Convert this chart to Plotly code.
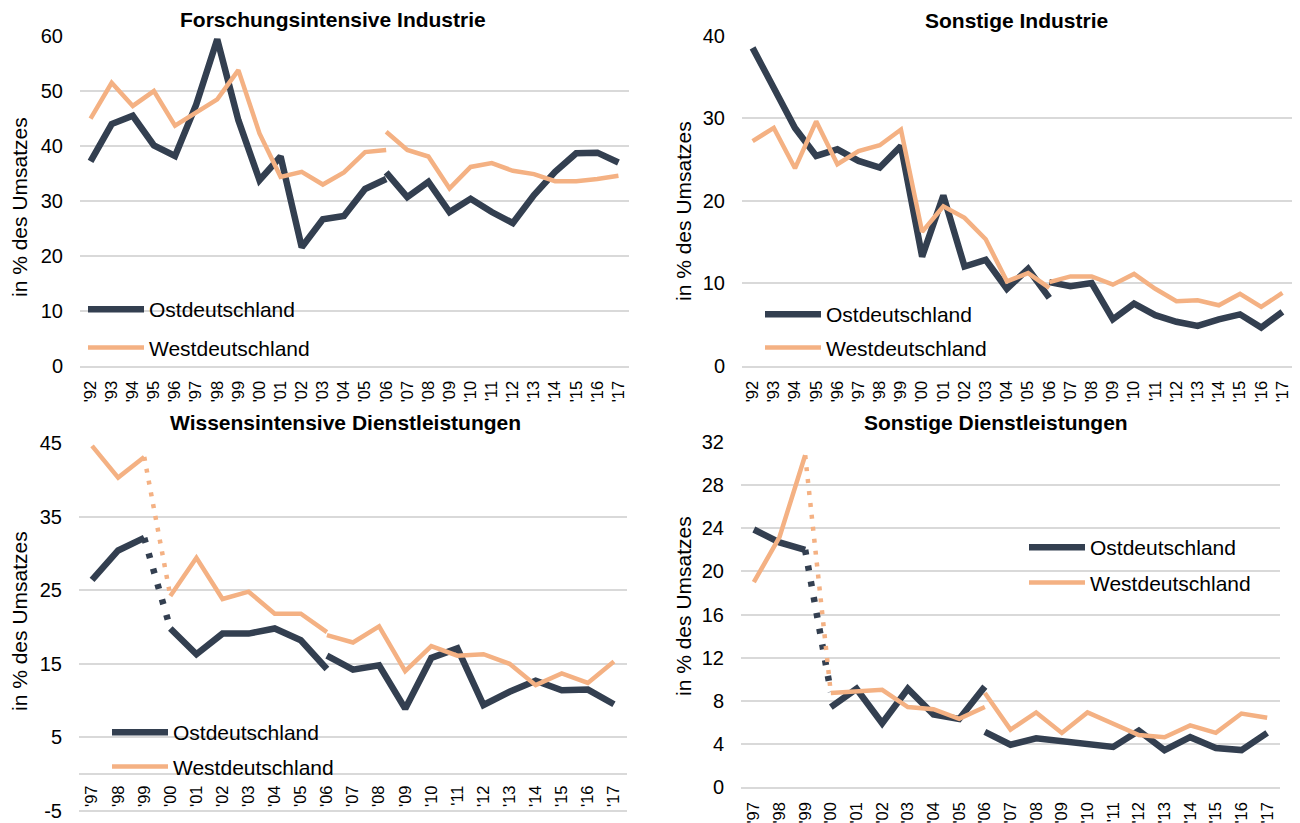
import plotly.graph_objects as go

# page body has an 8px margin -> figure drawn 8px in from the window edges
OFF = 8
FW, FH = 1300 - OFF, 823 - OFF

# ---------------- categories ----------------
years_92 = ["'92", "'93", "'94", "'95", "'96", "'97", "'98", "'99", "'00", "'01", "'02", "'03", "'04",
            "'05", "'06", "'07", "'08", "'09", "'10", "'11", "'12", "'13", "'14", "'15", "'16", "'17"]
years_97 = ["'97", "'98", "'99", "'00", "'01", "'02", "'03", "'04", "'05", "'06", "'07", "'08", "'09",
            "'10", "'11", "'12", "'13", "'14", "'15", "'16", "'17"]

# y tick values / labels
ticks_fi = [0, 10, 20, 30, 40, 50, 60]
ticks_si = [0, 10, 20, 30, 40]
ticks_wd = [-5, 5, 15, 25, 35, 45]
ticklabels_wd = ["-5", "5", "15", "25", "35", "45"]
ticks_sd = [0, 4, 8, 12, 16, 20, 24, 28, 32]

# ---------------- Forschungsintensive Industrie ----------------
fi_ost_a = [37.1, 43.9, 45.4, 40.0, 38.1, 47.4, 59.3, 44.6, 33.7, 38.0, 21.5, 26.6, 27.2, 32.1, 33.9]   # '92-'06
fi_ost_b = [35.1, 30.6, 33.4, 27.9, 30.3, 27.9, 25.9, 31.0, 35.2, 38.6, 38.7, 36.9]                    # '06-'17
fi_west_a = [44.9, 51.4, 47.2, 49.9, 43.6, 45.9, 48.4, 53.7, 42.2, 34.3, 35.2, 32.9, 35.1, 38.8, 39.2]
fi_west_b = [42.5, 39.2, 38.0, 32.2, 36.1, 36.8, 35.4, 34.8, 33.5, 33.5, 33.9, 34.5]

# ---------------- Sonstige Industrie ----------------
si_ost_a = [38.5, 33.5, 28.8, 25.4, 26.2, 24.8, 24.0, 26.6, 13.2, 20.6, 12.0, 12.8, 9.3, 11.7, 8.2]
si_ost_b = [10.1, 9.6, 10.0, 5.6, 7.5, 6.1, 5.3, 4.8, 5.6, 6.2, 4.6, 6.5]
si_west_a = [27.2, 28.8, 23.9, 29.6, 24.4, 26.0, 26.7, 28.6, 16.2, 19.3, 17.9, 15.3, 10.2, 11.2, 9.4]
si_west_b = [10.1, 10.8, 10.8, 9.8, 11.1, 9.3, 7.8, 7.9, 7.3, 8.7, 7.1, 8.8]

# ---------------- Wissensintensive Dienstleistungen ----------------
wd_ost_0 = [26.4, 30.4, 32.1]                                  # '97-'99
wd_ost_link = [32.1, 19.8]                                     # '99-'00 (dotted)
wd_ost_a = [19.8, 16.3, 19.1, 19.1, 19.8, 18.2, 14.3]          # '00-'06
wd_ost_b = [16.1, 14.2, 14.8, 8.9, 15.8, 17.1, 9.4, 11.2, 12.7, 11.4, 11.5, 9.5]   # '06-'17
wd_west_0 = [44.6, 40.3, 43.1]
wd_west_link = [43.1, 24.2]
wd_west_a = [24.2, 29.4, 23.8, 24.8, 21.8, 21.8, 19.3]
wd_west_b = [18.9, 17.9, 20.1, 14.0, 17.4, 16.1, 16.3, 15.0, 12.1, 13.7, 12.4, 15.3]

# ---------------- Sonstige Dienstleistungen ----------------
sd_ost_0 = [23.9, 22.7, 22.0]
sd_ost_link = [22.0, 8.8]
sd_ost_a = [7.4, 9.1, 5.9, 9.1, 6.7, 6.3, 9.3]
sd_ost_b = [5.1, 3.9, 4.5, 4.2, 3.9, 3.7, 5.2, 3.4, 4.6, 3.6, 3.4, 5.0]
sd_west_0 = [19.0, 23.2, 30.8]
sd_west_link = [30.8, 8.7]
sd_west_a = [8.7, 8.9, 9.0, 7.4, 7.2, 6.3, 7.4]
sd_west_b = [8.7, 5.3, 6.9, 5.0, 6.9, 5.8, 4.8, 4.6, 5.7, 5.0, 6.8, 6.4]

titles = ["Forschungsintensive Industrie", "Sonstige Industrie",
          "Wissensintensive Dienstleistungen", "Sonstige Dienstleistungen"]
ytitle = "in % des Umsatzes"
names = ["Ostdeutschland", "Westdeutschland"]

OST = "#333F50"
WEST = "#F4B183"
GRID = "#D9D9D9"
FONT = "Liberation Sans, Arial, sans-serif"
OST_W = 6.5
WEST_W = 4.5

fig = go.Figure()


def add(x, y, ax, color, width, name=None, legend=None, dash="solid"):
    fig.add_trace(go.Scatter(
        x=x, y=y, xaxis="x" + ax, yaxis="y" + ax, mode="lines",
        line=dict(color=color, width=width, dash=dash),
        name=name if name else "", showlegend=name is not None,
        legend=legend, legendgroup=(name or "") + (legend or ""),
        hoverinfo="skip"))


# panel 1 (top-left)
add(years_92[0:15], fi_ost_a, "", OST, OST_W, names[0], "legend")
add(years_92[14:], fi_ost_b, "", OST, OST_W)
add(years_92[0:15], fi_west_a, "", WEST, WEST_W, names[1], "legend")
add(years_92[14:], fi_west_b, "", WEST, WEST_W)

# panel 2 (top-right)
add(years_92[0:15], si_ost_a, "2", OST, OST_W, names[0], "legend2")
add(years_92[14:], si_ost_b, "2", OST, OST_W)
add(years_92[0:15], si_west_a, "2", WEST, WEST_W, names[1], "legend2")
add(years_92[14:], si_west_b, "2", WEST, WEST_W)

# panel 3 (bottom-left)
add(years_97[0:3], wd_ost_0, "3", OST, OST_W, names[0], "legend3")
add(years_97[2:4], wd_ost_link, "3", OST, OST_W, dash="5px,11px")
add(years_97[3:10], wd_ost_a, "3", OST, OST_W)
add(years_97[9:], wd_ost_b, "3", OST, OST_W)
add(years_97[0:3], wd_west_0, "3", WEST, WEST_W, names[1], "legend3")
add(years_97[2:4], wd_west_link, "3", WEST, WEST_W, dash="4px,8px")
add(years_97[3:10], wd_west_a, "3", WEST, WEST_W)
add(years_97[9:], wd_west_b, "3", WEST, WEST_W)

# panel 4 (bottom-right)
add(years_97[0:3], sd_ost_0, "4", OST, OST_W, names[0], "legend4")
add(years_97[2:4], sd_ost_link, "4", OST, OST_W, dash="5px,11px")
add(years_97[3:10], sd_ost_a, "4", OST, OST_W)
add(years_97[9:], sd_ost_b, "4", OST, OST_W)
add(years_97[0:3], sd_west_0, "4", WEST, WEST_W, names[1], "legend4")
add(years_97[2:4], sd_west_link, "4", WEST, WEST_W, dash="4px,8px")
add(years_97[3:10], sd_west_a, "4", WEST, WEST_W)
add(years_97[9:], sd_west_b, "4", WEST, WEST_W)


def px_x(p):
    return (p - OFF) / FW


def px_y(p):
    return 1 - (p - OFF) / FH


def xaxis(dom, cats, anchor, position=None, showline=True):
    d = dict(domain=[px_x(dom[0]), px_x(dom[1])], type="category",
             categoryorder="array", categoryarray=cats,
             range=[-0.5, len(cats) - 0.5], tickangle=-90,
             tickfont=dict(size=16.5, color="#000000", family=FONT),
             showgrid=False, zeroline=False, showline=showline, linecolor=GRID, linewidth=1.5,
             ticks="", ticklabelstandoff=7, automargin=False, fixedrange=True)
    if position is None:
        d["anchor"] = anchor
    else:
        d["anchor"] = "free"
        d["position"] = position
    return d


def yaxis(dom, rng, tickvals, anchor, zeroline=False, ticktext=None):
    d = dict(domain=[px_y(dom[1]), px_y(dom[0])], range=rng, tickvals=tickvals,
             tickfont=dict(size=20, color="#000000", family=FONT),
             showgrid=True, gridcolor=GRID, gridwidth=1.5,
             zeroline=zeroline, zerolinecolor=GRID, zerolinewidth=1.5,
             showline=False, ticks="", ticklabelstandoff=16, anchor=anchor,
             ticklabeloverflow="allow", automargin=False, fixedrange=True)
    if ticktext is not None:
        d["ticktext"] = ticktext
    return d


# pixel geometry (window pixels) of the four plot areas
TL = dict(x=(80, 629), y=(35.5, 365.5))
TR = dict(x=(742, 1293), y=(35.5, 365.5))
BR = dict(x=(741, 1280), y=(442.3, 786.7))
# bottom-left: 45 at 443 px, -5 at 811 px; plot area reaches 2 px below the -5 gridline
BL_TOP, BL_M5, BL_PAD = 443.0, 811.0, 2.0
bl_ppu = (BL_M5 - BL_TOP) / 50.0
BL = dict(x=(79, 627), y=(BL_TOP, BL_M5 + BL_PAD))
bl_range = [-5 - BL_PAD / bl_ppu, 45]
bl_zero = px_y(BL_M5 - 5 * bl_ppu)

fig.update_layout(
    template="plotly_white",
    width=FW, height=FH,
    margin=dict(l=0, r=0, t=0, b=0, autoexpand=False),
    paper_bgcolor="white", plot_bgcolor="white",
    font=dict(family=FONT, color="#000000"),
    xaxis=xaxis(TL["x"], years_92, "y"),
    yaxis=yaxis(TL["y"], [0, 60], ticks_fi, "x"),
    xaxis2=xaxis(TR["x"], years_92, "y2"),
    yaxis2=yaxis(TR["y"], [0, 40], ticks_si, "x2"),
    xaxis3=xaxis(BL["x"], years_97, None, position=bl_zero, showline=False),
    yaxis3=yaxis(BL["y"], bl_range, ticks_wd, "x3", zeroline=True, ticktext=ticklabels_wd),
    xaxis4=xaxis(BR["x"], years_97, "y4"),
    yaxis4=yaxis(BR["y"], [0, 32], ticks_sd, "x4"),
    showlegend=True,
)

leg_common = dict(xanchor="left", yanchor="top", bgcolor="rgba(0,0,0,0)",
                  font=dict(size=21, color="#000000", family=FONT),
                  itemwidth=56, traceorder="grouped",
                  itemclick=False, itemdoubleclick=False)
fig.update_layout(
    legend=dict(x=px_x(83), y=px_y(289), tracegroupgap=8, **leg_common),
    legend2=dict(x=px_x(760), y=px_y(294), tracegroupgap=3, **leg_common),
    legend3=dict(x=px_x(107), y=px_y(712), tracegroupgap=4, **leg_common),
    legend4=dict(x=px_x(1024), y=px_y(527), tracegroupgap=5, **leg_common),
)

# panel titles
title_pos = [(333, 19.5), (1016, 20), (345, 423), (996, 423)]
for t, (cx, cy) in zip(titles, title_pos):
    fig.add_annotation(text="<b>" + t + "</b>", x=px_x(cx), y=px_y(cy), xref="paper", yref="paper",
                       showarrow=False, xanchor="center", yanchor="middle",
                       font=dict(size=21, color="#000000", family=FONT))

# y-axis titles
ytitle_pos = [(19, 207), (683, 211), (19, 621), (683, 606)]
for (cx, cy) in ytitle_pos:
    fig.add_annotation(text=ytitle, x=px_x(cx), y=px_y(cy), xref="paper", yref="paper",
                       showarrow=False, xanchor="center", yanchor="middle", textangle=-90,
                       font=dict(size=21, color="#000000", family=FONT))

fig.write_html("out.html")
